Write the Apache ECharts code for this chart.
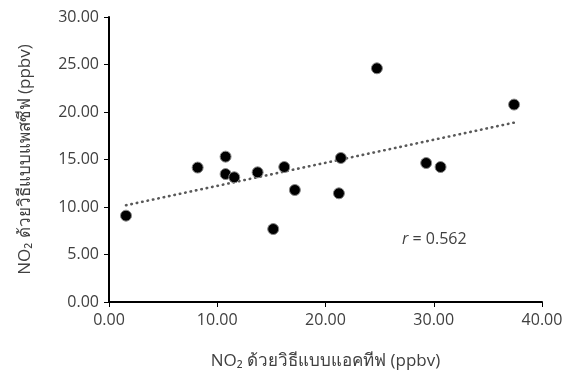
<!DOCTYPE html>
<html><head><meta charset="utf-8">
<script src="https://cdn.jsdelivr.net/npm/echarts@6/dist/echarts.min.js"></script>
<style>html,body{margin:0;padding:0;background:#fff}#c{width:578px;height:379px}</style>
</head><body><div id="c"></div>
<script>
const activeNO2 = [1.57, 8.19, 10.77, 10.77, 11.57, 13.73, 15.17, 16.19, 17.17, 21.24, 21.42, 24.75, 29.30, 30.63, 37.42];
const passiveNO2 = [9.09, 14.15, 15.30, 13.47, 13.13, 13.65, 7.68, 14.21, 11.79, 11.44, 15.16, 24.60, 14.63, 14.21, 20.78];
const trendX = [1.57, 37.42];
const trendY = [10.18, 18.88];
const xTitle = 'NO₂ ด้วยวิธีแบบแอคทีฟ (ppbv)';
const yTitle = 'NO₂ ด้วยวิธีแบบแพสซีฟ (ppbv)';
const rText = '0.562';

const font = '"Open Sans", "Noto Sans", "DejaVu Sans", sans-serif';
const txt = '#404040';
const chart = echarts.init(document.getElementById('c'));
chart.setOption({
  animation: false,
  grid: {left: 109, right: 36, top: 17, bottom: 77},
  xAxis: {
    type: 'value', min: 0, max: 40, interval: 10,
    name: xTitle, nameLocation: 'middle', nameGap: 51,
    nameTextStyle: {color: txt, fontSize: 17, fontFamily: font},
    axisLine: {lineStyle: {color: '#000', width: 2}},
    axisTick: {show: true, length: 5, lineStyle: {color: '#000', width: 1}},
    axisLabel: {color: txt, fontSize: 16, fontFamily: font, margin: 10, formatter: v => v.toFixed(2)},
    splitLine: {show: false}
  },
  yAxis: {
    type: 'value', min: 0, max: 30, interval: 5,
    name: yTitle, nameLocation: 'middle', nameGap: 75,
    nameTextStyle: {color: txt, fontSize: 17, fontFamily: font},
    axisLine: {show: true, lineStyle: {color: '#000', width: 2}},
    axisTick: {show: true, length: 5, lineStyle: {color: '#000', width: 1}},
    axisLabel: {color: txt, fontSize: 16, fontFamily: font, margin: 10, formatter: v => v.toFixed(2)},
    splitLine: {show: false}
  },
  graphic: [{
    type: 'text', left: 402, top: 231,
    style: {
      text: '{i|r} = ' + rText,
      rich: {i: {fontStyle: 'italic', fontSize: 16, fill: txt, fontFamily: font}},
      fontSize: 16, fill: txt, fontFamily: font
    }
  }],
  series: [{
    type: 'line',
    data: trendX.map((x, i) => [x, trendY[i]]),
    showSymbol: false, symbol: 'none',
    lineStyle: {color: '#595959', width: 2.6, type: [0.5, 5], cap: 'round'},
    z: 1
  }, {
    type: 'scatter',
    data: activeNO2.map((x, i) => [x, passiveNO2[i]]),
    symbolSize: 11,
    itemStyle: {color: '#000', borderColor: '#888', borderWidth: 1, opacity: 1},
    z: 3
  }]
});
</script></body></html>
